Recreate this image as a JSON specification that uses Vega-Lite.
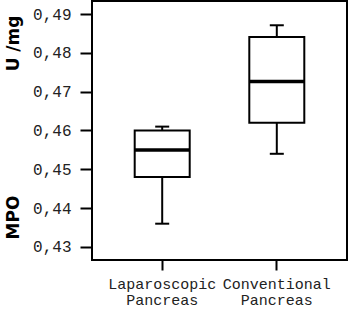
{
  "$schema": "https://vega.github.io/schema/vega-lite/v6.json",
  "width": 255,
  "height": 259,
  "autosize": "none",
  "padding": {"left": 92, "top": 1, "right": 1, "bottom": 54},
  "background": "white",
  "config": {
    "view": {"stroke": "black", "strokeWidth": 2},
    "axis": {"grid": false, "domain": false}
  },
  "data": {
    "values": [
      {"group": "Laparoscopic Pancreas", "lower": 0.436, "q1": 0.448, "median": 0.455, "q3": 0.460, "upper": 0.461},
      {"group": "Conventional Pancreas", "lower": 0.454, "q1": 0.462, "median": 0.4726, "q3": 0.4841, "upper": 0.4871}
    ]
  },
  "encoding": {
    "x": {
      "field": "group",
      "type": "nominal",
      "sort": null,
      "scale": {"paddingInner": 0, "paddingOuter": 0.1126},
      "axis": {
        "title": null,
        "labelAngle": 0,
        "labelExpr": "split(datum.label, ' ')",
        "labelFont": "Liberation Mono",
        "labelFontSize": 15,
        "labelColor": "#222",
        "labelLineHeight": 16,
        "labelPadding": 6,
        "tickSize": 10,
        "tickWidth": 2,
        "tickColor": "black"
      }
    }
  },
  "layer": [
    {
      "mark": {"type": "rule", "color": "black", "strokeWidth": 2, "opacity": 1},
      "encoding": {
        "y": {
          "field": "lower",
          "type": "quantitative",
          "scale": {"domain": [0.42665, 0.49335], "nice": false, "zero": false},
          "axis": {
            "values": [0.43, 0.44, 0.45, 0.46, 0.47, 0.48, 0.49],
            "labelExpr": "replace(format(datum.value, '.2f'), '.', ',')",
            "labelFont": "Liberation Mono",
            "labelFontSize": 16,
            "labelColor": "#222",
            "labelPadding": 9,
            "tickSize": 12,
            "tickWidth": 2,
            "tickColor": "black",
            "title": "MPO\u00a0\u00a0\u00a0\u00a0\u00a0\u00a0\u00a0\u00a0\u00a0\u00a0\u00a0\u00a0\u00a0\u00a0\u00a0\u00a0\u00a0\u00a0\u00a0\u00a0\u00a0U\u00a0/mg",
            "titleFont": "DejaVu Sans",
            "titleFontSize": 17,
            "titleFontWeight": "bold",
            "titleColor": "black",
            "titleAngle": -90,
            "titleX": -74,
            "titleY": 126,
            "titleBaseline": "alphabetic",
            "titleAlign": "center"
          }
        },
        "y2": {"field": "upper"}
      }
    },
    {
      "mark": {"type": "bar", "fill": "white", "stroke": "black", "strokeWidth": 2, "size": 55, "opacity": 1},
      "encoding": {
        "y": {"field": "q1", "type": "quantitative"},
        "y2": {"field": "q3"}
      }
    },
    {
      "mark": {"type": "tick", "color": "black", "thickness": 3.5, "size": 55, "opacity": 1},
      "encoding": {"y": {"field": "median", "type": "quantitative"}}
    },
    {
      "mark": {"type": "tick", "color": "black", "thickness": 2, "size": 14, "opacity": 1},
      "encoding": {"y": {"field": "lower", "type": "quantitative"}}
    },
    {
      "mark": {"type": "tick", "color": "black", "thickness": 2, "size": 14, "opacity": 1},
      "encoding": {"y": {"field": "upper", "type": "quantitative"}}
    }
  ]
}
